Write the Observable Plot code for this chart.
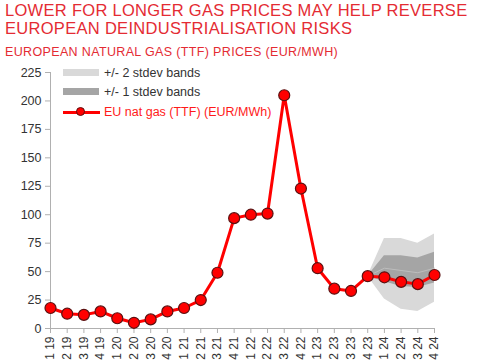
<!DOCTYPE html>
<html>
<head>
<meta charset="utf-8">
<script src="https://cdn.jsdelivr.net/npm/d3@7"></script>
<script src="https://cdn.jsdelivr.net/npm/@observablehq/plot@0.6"></script>
<style>
  html, body { margin: 0; padding: 0; background: #fff; overflow: hidden; width: 485px; height: 360px; }
  body { font-family: "Liberation Sans", Arial, sans-serif; position: relative; }
  #title { position: absolute; left: 5px; top: 2px; color: #e42b33; font-size: 16.5px; line-height: 17.5px; letter-spacing: 0.3px; white-space: nowrap; }
  #subtitle { position: absolute; left: 5px; top: 45px; color: #e42b33; font-size: 12.5px; line-height: 14px; white-space: nowrap; letter-spacing: 0.35px; }
  #chart { position: absolute; left: 0; top: 62px; width: 485px; }
  #legend { position: absolute; left: 63px; top: 64px; font-size: 12.5px; color: #333; }
  .lg { position: absolute; left: 0; white-space: nowrap; height: 14px; }
  .sw { position: absolute; left: 0; width: 36px; }
  .lt { position: absolute; left: 41px; top: 0; line-height: 14px; }
</style>
</head>
<body>
<div id="title">LOWER FOR LONGER GAS PRICES MAY HELP REVERSE<br>EUROPEAN DEINDUSTRIALISATION RISKS</div>
<div id="subtitle">EUROPEAN NATURAL GAS (TTF) PRICES (EUR/MWH)</div>
<div id="chart"></div>
<div id="legend">
  <div class="lg" style="top:2px"><div class="sw" style="top:3px;height:7px;background:#d9d9d9"></div><div class="lt">+/- 2 stdev bands</div></div>
  <div class="lg" style="top:21px"><div class="sw" style="top:3px;height:7px;background:#a5a5a5"></div><div class="lt">+/- 1 stdev bands</div></div>
  <div class="lg" style="top:41px"><div class="sw" style="top:5.5px;height:3px;background:#ff0000;width:37px"></div>
    <div style="position:absolute;left:13px;top:2px;width:9px;height:9px;border-radius:50%;background:#ff0000;border:1.2px solid #5a1010;box-sizing:border-box"></div>
    <div class="lt" style="color:#ff1a1a">EU nat gas (TTF) (EUR/MWh)</div></div>
</div>
<script>
const quarters = ["Q1 19","Q2 19","Q3 19","Q4 19","Q1 20","Q2 20","Q3 20","Q4 20",
  "Q1 21","Q2 21","Q3 21","Q4 21","Q1 22","Q2 22","Q3 22","Q4 22",
  "Q1 23","Q2 23","Q3 23","Q4 23","Q1 24","Q2 24","Q3 24","Q4 24"];
const ttf = [18, 13, 12, 15, 9, 5, 8, 15, 18, 25, 49, 97, 100, 101, 205, 123, 53, 35, 33, 46, 45, 41, 39, 47];

const bandQuarters = ["Q4 23","Q1 24","Q2 24","Q3 24","Q4 24"];
const upper2 = [46, 79, 79, 75, 83];
const lower2 = [46, 26, 17, 15, 23];
const upper1 = [46, 64, 64, 62, 67];
const lower1 = [46, 41, 37, 36, 40];
const center = [46, 53, 51, 49, 53];

const yTicks = [0, 25, 50, 75, 100, 125, 150, 175, 200, 225];

const idx = q => quarters.indexOf(q);
const series = quarters.map((q, i) => ({i: idx(q), v: ttf[i]}));
const bands = bandQuarters.map((q, i) => ({i: idx(q), u2: upper2[i], l2: lower2[i], u1: upper1[i], l1: lower1[i], c: center[i]}));

const chart = Plot.plot({
  width: 485,
  height: 310,
  marginLeft: 50,
  marginRight: 51,
  marginTop: 10,
  marginBottom: 44,
  style: {fontFamily: "'Liberation Sans', Arial, sans-serif", fontSize: "12px", color: "#333", background: "transparent"},
  x: {type: "linear", domain: [0, quarters.length - 1]},
  y: {domain: [0, 225]},
  marks: [
    Plot.areaY(bands, {x: "i", y1: "l2", y2: "u2", fill: "#d9d9d9", curve: "linear"}),
    Plot.areaY(bands, {x: "i", y1: "l1", y2: "u1", fill: "#a5a5a5", curve: "linear"}),
    Plot.line(bands, {x: "i", y: "c", stroke: "#bdbdbd", strokeWidth: 1}),
    Plot.ruleX([0], {stroke: "#b0b0b0", strokeWidth: 1}),
    Plot.ruleY([0], {stroke: "#b0b0b0", strokeWidth: 1}),
    Plot.axisY({ticks: yTicks, tickSize: 5, tickPadding: 4, stroke: "#b0b0b0", fill: "#333", fontSize: 12.5, label: null}),
    Plot.axisX({ticks: d3.range(quarters.length), tickFormat: i => quarters[i], tickSize: 5, tickPadding: 3, tickRotate: -90, stroke: "#b0b0b0", fill: "#333", fontSize: 12, label: null}),
    Plot.line(series, {x: "i", y: "v", stroke: "#ff0000", strokeWidth: 3, strokeLinejoin: "round"}),
    Plot.dot(series, {x: "i", y: "v", r: 5.5, fill: "#ff0000", stroke: "#5a1010", strokeWidth: 1.2})
  ]
});
document.getElementById("chart").appendChild(chart);
</script>
</body>
</html>
